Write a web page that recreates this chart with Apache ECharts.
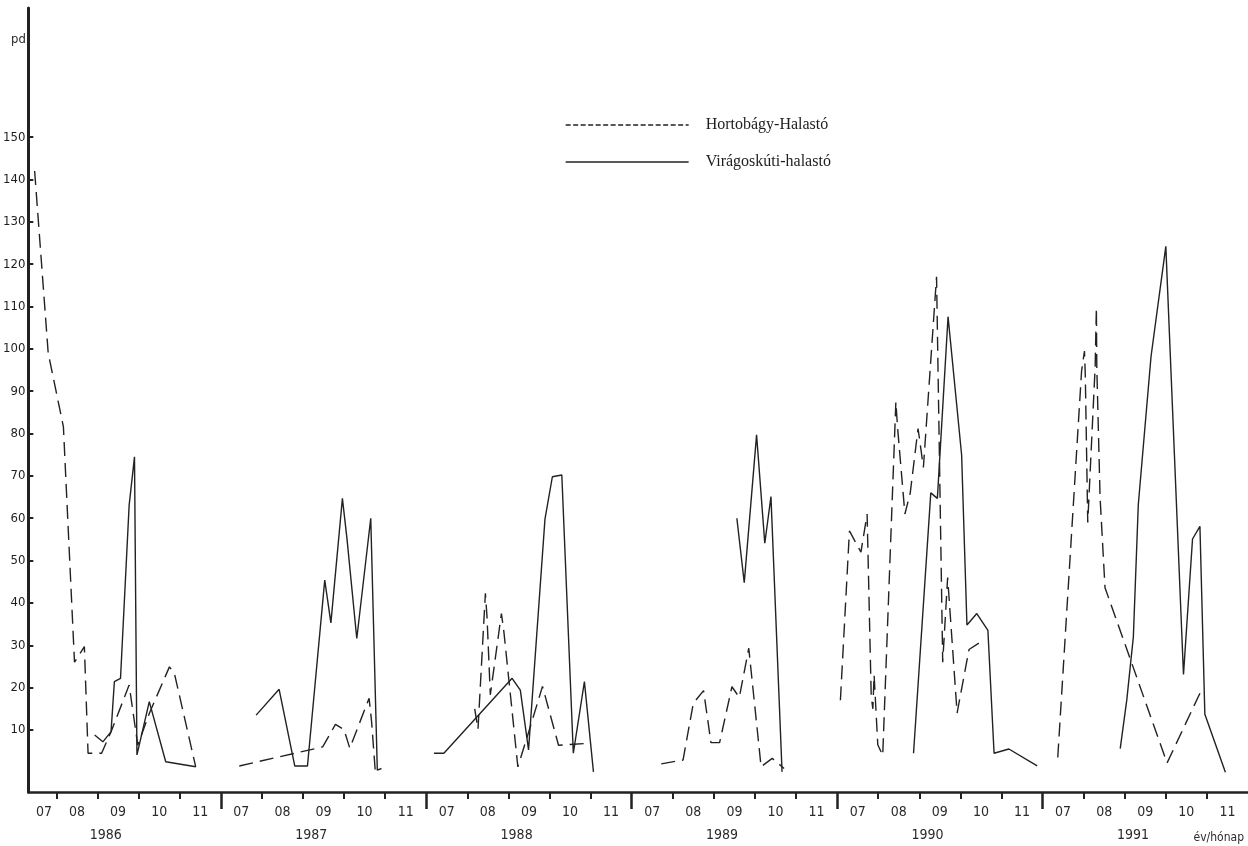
<!DOCTYPE html>
<html><head><meta charset="utf-8">
<script src="https://cdn.jsdelivr.net/npm/echarts@6/dist/echarts.min.js"></script>
<style>html,body{margin:0;padding:0;background:#fff}#c{width:1248px;height:846px}</style>
</head><body><div id="c"></div>
<script>
// ---- data (x = months elapsed since 1 July of that season, 0..5; y = pd) ----
const years = ['1986', '1987', '1988', '1989', '1990', '1991'];
const months = ['07', '08', '09', '10', '11'];
const yTickValues = [10, 20, 30, 40, 50, 60, 70, 80, 90, 100, 110, 120, 130, 140, 150];
const seriesNames = ['Hortobágy-Halastó', 'Virágoskúti-halastó'];

const horto1986 = [[0.47,142],[0.80,99],[1.17,81.6],[1.44,26],[1.68,29.7],[1.77,4.5],[2.10,4.5],[2.33,9.6],[2.77,20.6],[2.98,6.4],[3.26,13.9],[3.75,24.9],[3.87,23.4],[4.39,1.3]];
const horto1987 = [[0.45,1.5],[2.48,6],[2.79,11.3],[3.00,10.1],[3.14,5.7],[3.61,17.5],[3.67,12],[3.76,0.3]];
const horto1988 = [[1.18,15],[1.26,10.2],[1.44,42.3],[1.48,36.6],[1.56,18.3],[1.83,37.5],[1.89,33.2],[2.23,1.3],[2.49,9.4],[2.83,20.3],[3.22,6.4],[3.88,6.8]];
const horto1989 = [[0.72,2.0],[1.25,2.9],[1.50,16.3],[1.75,19.3],[1.93,7.0],[2.14,7.0],[2.44,20.2],[2.62,17.7],[2.85,29.3],[3.15,1.3],[3.42,3.3],[3.71,0.9]];
const horto1990 = [[0.08,17],[0.30,57],[0.58,52],[0.73,61],[0.83,18],[0.87,15],[0.90,23],[0.99,6.5],[1.11,4],[1.43,87.5],[1.47,81.6],[1.65,61],[1.78,66],[1.97,81.2],[2.10,72],[2.42,117],[2.57,26],[2.69,46],[2.92,14],[3.21,29],[3.45,30.5]];
const horto1991 = [[0.37,3.5],[0.95,94.8],[1.02,99.5],[1.04,93.9],[1.10,59],[1.28,95.7],[1.31,109.7],[1.32,95.7],[1.40,64.9],[1.52,43.6],[3.03,2.2],[3.88,19.7]];

const virag1986 = [[1.93,8.8],[2.13,7.2],[2.33,9.6],[2.41,21.4],[2.56,22.2],[2.77,63.1],[2.90,74.5],[2.96,4.1],[3.26,16.7],[3.66,2.5],[4.39,1.3]];
const virag1987 = [[0.86,13.5],[1.42,19.6],[1.80,1.5],[2.11,1.5],[2.53,45.4],[2.68,35.3],[2.96,64.7],[3.07,55.3],[3.31,31.6],[3.65,60],[3.81,0.5],[3.91,0.9]];
const virag1988 = [[0.19,4.5],[0.43,4.5],[2.09,22.2],[2.29,19.4],[2.49,5.3],[2.89,59.8],[3.07,69.8],[3.30,70.2],[3.58,4.5],[3.85,21.4],[4.07,0.1]];
const virag1989 = [[2.56,60],[2.74,44.8],[3.04,79.7],[3.24,54.1],[3.39,65.1],[3.66,0.1]];
const virag1990 = [[1.86,4.5],[2.28,66],[2.44,64.7],[2.70,107.6],[3.03,75],[3.16,34.8],[3.40,37.5],[3.67,33.5],[3.82,4.5],[4.18,5.5],[4.87,1.5]];
const virag1991 = [[1.89,5.6],[2.05,17.1],[2.21,32],[2.33,63.2],[2.64,98.2],[3.00,124.2],[3.43,23.1],[3.65,55.1],[3.83,58.1],[3.95,13.7],[4.45,0]];

// ---- build ----
const MPY = months.length; // months shown per season
function joinSeasons(list) {
  const out = [];
  list.forEach((arr, k) => {
    arr.forEach(p => out.push([k * MPY + p[0], p[1]]));
    out.push([k * MPY + MPY - 0.01, '-']);
  });
  return out;
}
const hortoData = joinSeasons([horto1986, horto1987, horto1988, horto1989, horto1990, horto1991]);
const viragData = joinSeasons([virag1986, virag1987, virag1988, virag1989, virag1990, virag1991]);

const monthTicks = [], monthLabels = [], yearTicks = [], yearLabels = [];
years.forEach((y, k) => {
  for (let m = 0; m < MPY; m++) {
    if (m > 0) monthTicks.push(k * MPY + m);
    monthLabels.push(k === 0 && m === 0 ? 0.7 : k * MPY + m + 0.5);
  }
  if (k > 0) yearTicks.push(k * MPY);
  yearLabels.push(k * MPY + 2.2);
});

const XMIN = 0.316, XMAX = years.length * MPY;
const ink = '#222222';
const narrow = '"Liberation Sans Narrow","DejaVu Sans Condensed","DejaVu Sans",sans-serif';

const chart = echarts.init(document.getElementById('c'), null, {renderer: 'canvas'});
chart.setOption({
  animation: false,
  backgroundColor: '#ffffff',
  grid: {left: 25, right: 0, top: 8, bottom: 54, containLabel: false},
  legend: {
    orient: 'vertical', left: 560, top: 112,
    itemWidth: 123, itemHeight: 18, itemGap: 21,
    formatter: name => '   ' + name,
    itemStyle: {opacity: 0},
    textStyle: {fontFamily: '"Liberation Serif","Times New Roman",serif', fontSize: 16, color: '#1e1e1e'},
    data: [
      {name: seriesNames[0], lineStyle: {type: [5, 2.5], width: 1.3, color: ink}},
      {name: seriesNames[1], lineStyle: {type: 'solid', width: 1.3, color: ink}}
    ]
  },
  xAxis: [
    {
      type: 'value', min: XMIN, max: XMAX, position: 'bottom',
      axisLine: {show: true, onZero: false, lineStyle: {color: ink, width: 2.5}},
      axisTick: {show: true, length: 7, lineStyle: {color: ink, width: 2}, customValues: monthTicks},
      axisLabel: {customValues: monthLabels, margin: 13, fontSize: 14, color: '#2a2a2a', fontFamily: narrow,
        formatter: v => months[Math.floor(v) % MPY]},
      splitLine: {show: false}
    },
    {
      type: 'value', min: XMIN, max: XMAX, position: 'bottom', offset: 0,
      axisLine: {show: false, onZero: false},
      axisTick: {show: true, length: 17, lineStyle: {color: ink, width: 2.5}, customValues: yearTicks},
      axisLabel: {customValues: yearLabels, margin: 36, fontSize: 14, color: '#2a2a2a', fontFamily: narrow,
        formatter: v => years[Math.floor(v / MPY)]},
      splitLine: {show: false}
    }
  ],
  yAxis: {
    type: 'value', min: -4.65, max: 180.5,
    axisLine: {show: true, onZero: false, lineStyle: {color: ink, width: 3}},
    axisTick: {show: true, inside: true, length: 5, lineStyle: {color: ink, width: 2}, customValues: yTickValues},
    axisLabel: {customValues: yTickValues, margin: 3, fontSize: 13, color: '#1e1e1e', fontFamily: narrow},
    splitLine: {show: false}
  },
  graphic: [
    {type: 'text', left: 11, top: 33, style: {text: 'pd', fontSize: 13, fill: '#2a2a2a', fontFamily: narrow}},
    {type: 'text', right: 4, top: 832, style: {text: 'év/hónap', fontSize: 12, fill: '#2a2a2a', fontFamily: narrow}}
  ],
  series: [
    {name: seriesNames[0], type: 'line', data: hortoData, xAxisIndex: 0, symbol: 'none', connectNulls: false,
     lineStyle: {color: ink, width: 1.4, type: [14, 7]}, itemStyle: {color: ink}},
    {name: seriesNames[1], type: 'line', data: viragData, xAxisIndex: 0, symbol: 'none', connectNulls: false,
     lineStyle: {color: ink, width: 1.4, type: 'solid'}, itemStyle: {color: ink}}
  ]
});
</script></body></html>
